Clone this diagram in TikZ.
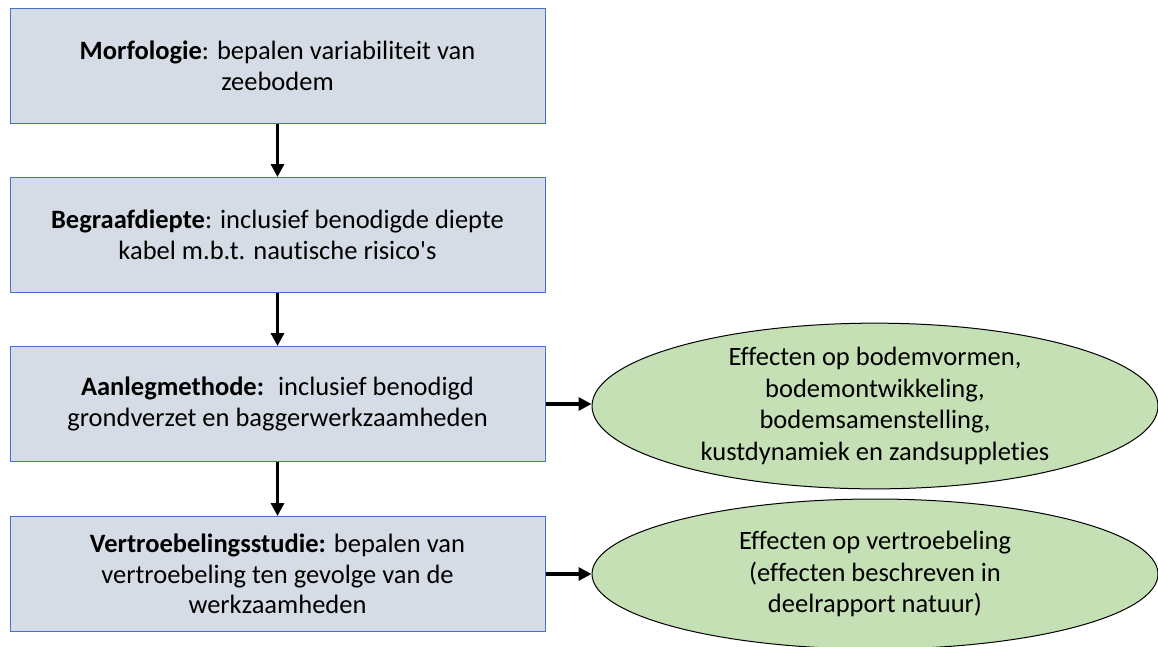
\documentclass[tikz,border=0pt]{standalone}
\usepackage{fontspec}
\setmainfont{Carlito}[Ligatures={NoCommon}]
\usetikzlibrary{arrows.meta, shapes.geometric}
\definecolor{boxfill}{HTML}{D6DCE5}
\definecolor{boxline}{HTML}{4472C4}
\definecolor{ovalfill}{HTML}{C5E0B4}
\begin{document}
\begin{tikzpicture}[x=1pt, y=-1pt, >={Triangle[length=13pt, width=13pt]},
        stage/.style={draw=boxline, line width=1pt, fill=boxfill, minimum width=535pt, minimum height=115pt, align=center, inner sep=0pt, font=\fontsize{26.5}{30.5}\selectfont},
        effect/.style={ellipse, draw=black, line width=1pt, fill=ovalfill, minimum width=566pt, minimum height=150pt, align=center, inner sep=0pt, font=\fontsize{26.5}{31.5}\selectfont},
        flow/.style={->, line width=3.2pt}]
        \useasboundingbox (0, 0) rectangle (1158, 646);
        \node[stage] (00) at (277.5, 66) {\textbf{Morfologie}: bepalen variabiliteit van\\zeebodem};
        \node[stage] (10) at (277.5, 235) {\textbf{Begraafdiepte}: inclusief benodigde diepte\\kabel m.b.t. nautische risico\textquotesingle s};
        \node[stage] (20) at (277.5, 404) {\textbf{Aanlegmethode:}~ inclusief benodigd\\grondverzet en baggerwerkzaamheden};
        \node[stage] (30) at (277.5, 574) {\textbf{Vertroebelingsstudie:} bepalen van\\vertroebeling ten gevolge van de\\werkzaamheden};
        \node[effect] (21) at (875, 406) {Effecten op bodemvormen,\\bodemontwikkeling,\\bodemsamenstelling,\\kustdynamiek en zandsuppleties};
        \node[effect] (31) at (875, 574) {Effecten op vertroebeling\\(effecten beschreven in\\deelrapport natuur)};
        \draw[flow] (00) -- (10);
        \draw[flow] (10) -- (20);
        \draw[flow] (20) -- (30);
        \draw[flow] (20.east) -- (21.west |- 20.east);
        \draw[flow] (30.east) -- (31.west |- 30.east);
    \end{tikzpicture}
\end{document}
